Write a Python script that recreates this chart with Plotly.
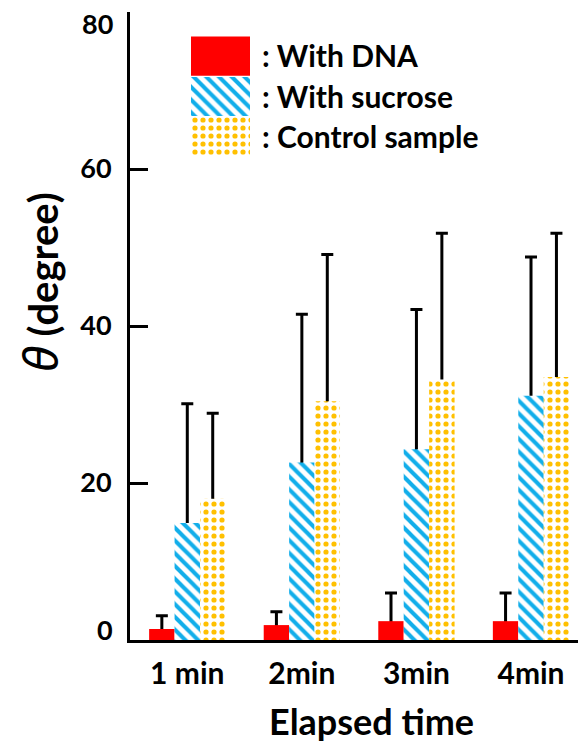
import plotly.graph_objects as go

# ---------------- data ----------------
categories = ["1 min", "2min", "3min", "4min"]
series_names = ["With DNA", "With sucrose", "Control sample"]
dna_values = [1.4, 1.9, 2.4, 2.4]
dna_err = [1.7, 1.7, 3.6, 3.6]
sucrose_values = [14.9, 22.6, 24.3, 31.1]
sucrose_err = [15.2, 18.9, 17.8, 17.7]
control_values = [18.0, 30.4, 33.2, 33.5]
control_err = [10.9, 18.7, 18.6, 18.3]
y_ticks = [0, 20, 40, 60, 80]
y_tick_labels = ["0", "20", "40", "60", "80"]

# ---------------- styles ----------------
BAR_W = 0.222
offsets = [-1.5 * BAR_W, -0.5 * BAR_W, 0.5 * BAR_W]
RED = "#FF0000"
BLUE = "#12AEEA"
GOLD = "#FFC000"
FONT = "Lato"
TICKFONT = dict(family=FONT, size=27, weight="bold", color="black")

markers = [
    dict(color=RED, line=dict(width=0)),
    dict(color="white", line=dict(width=0),
         pattern=dict(shape="\\", fgcolor=BLUE, bgcolor="white", size=9, solidity=0.45,
                      fillmode="replace", fgopacity=1)),
    dict(color="white", line=dict(width=0),
         pattern=dict(shape=".", fgcolor=GOLD, bgcolor="white", size=8, solidity=0.33,
                      fillmode="replace", fgopacity=1)),
]

vals = [dna_values, sucrose_values, control_values]
errs = [dna_err, sucrose_err, control_err]

fig = go.Figure()

# error bars (drawn first, under the bars; lower part hidden by bars / axis line)
for i in range(3):
    fig.add_trace(go.Bar(
        x=categories, y=vals[i], width=BAR_W, offset=offsets[i],
        marker=dict(color="rgba(0,0,0,0)", line=dict(width=0)),
        error_y=dict(type="data", symmetric=False, array=errs[i], arrayminus=vals[i],
                     color="black", thickness=3, width=6),
        showlegend=False, hoverinfo="skip",
    ))

# bars
for i in range(3):
    fig.add_trace(go.Bar(
        x=categories, y=vals[i], width=BAR_W, offset=offsets[i],
        marker=markers[i], name=series_names[i], showlegend=False,
    ))

# legend swatches on their own small axes
for i in range(3):
    fig.add_trace(go.Bar(
        x=[1], y=[2 - i], orientation="h", width=0.97,
        marker=markers[i], xaxis="x2", yaxis="y2", showlegend=False, hoverinfo="skip",
    ))

# the page body has an 8px margin: work in page pixels, convert to figure pixels
OFF = 8
W, H = 586 - OFF, 742 - OFF
PL, PT, PB = 130, 12, 640          # plot edges in page pixels
L, T = PL - OFF, PT - OFF
B = H - (PB - OFF)
R = 0
pw, ph = W - L - R, H - T - B

def px(x):
    return (x - PL) / pw

def py(y):
    return (PB - y) / ph

# end labels (0 and 80) are nudged inward as in the original figure
inner_text = [t if 0 < v < 80 else "" for v, t in zip(y_ticks, y_tick_labels)]

fig.update_layout(
    width=W, height=H,
    margin=dict(l=L, r=R, t=T, b=B, autoexpand=False),
    barmode="overlay",
    plot_bgcolor="white", paper_bgcolor="white",
    font=dict(family=FONT, color="black"),
    xaxis=dict(
        range=[-0.5, 3.48], showgrid=False, zeroline=False, automargin=False,
        showline=True, linecolor="black", linewidth=3, ticks="",
        tickfont=dict(family=FONT, size=30, weight="bold"), ticklabelstandoff=5,
    ),
    yaxis=dict(
        range=[0, 80], tickvals=y_ticks, ticktext=inner_text,
        showgrid=False, zeroline=False, automargin=False,
        showline=True, linecolor="black", linewidth=3,
        ticks="inside", ticklen=18, tickwidth=3, tickcolor="black",
        tickfont=TICKFONT, ticklabelstandoff=10,
    ),
    xaxis2=dict(domain=[px(191), px(250)], range=[0, 1], anchor="y2", visible=False, fixedrange=True),
    yaxis2=dict(domain=[py(157), py(36)], range=[-0.5, 2.5], anchor="x2", visible=False, fixedrange=True),
)

for v, t in zip(y_ticks, y_tick_labels):
    if v in (0, 80):
        ypix = 24 if v == 80 else 629
        fig.add_annotation(
            text=t, xref="paper", yref="paper", x=px(115), y=py(ypix),
            xanchor="right", yanchor="middle", showarrow=False, font=TICKFONT,
        )

leg_y = [55, 96, 136]
for i in range(3):
    fig.add_annotation(
        text=": " + series_names[i], xref="paper", yref="paper",
        x=px(260), y=py(leg_y[i]), xanchor="left", yanchor="middle",
        showarrow=False, font=dict(family=FONT, size=30, weight="bold"),
    )

fig.add_annotation(
    text="Elapsed time", xref="paper", yref="paper",
    x=px(371), y=py(721), xanchor="center", yanchor="middle",
    showarrow=False, font=dict(family=FONT, size=36, weight="bold"),
)

fig.add_annotation(
    text="<span style='font-family:Noto Sans;font-size:48px;font-style:italic;font-weight:normal'>θ</span> (degree)",
    xref="paper", yref="paper",
    x=px(39), y=py(282), xanchor="center", yanchor="middle", textangle=-90,
    showarrow=False, font=dict(family=FONT, size=40, weight="bold"),
)

fig.write_html("out.html")
